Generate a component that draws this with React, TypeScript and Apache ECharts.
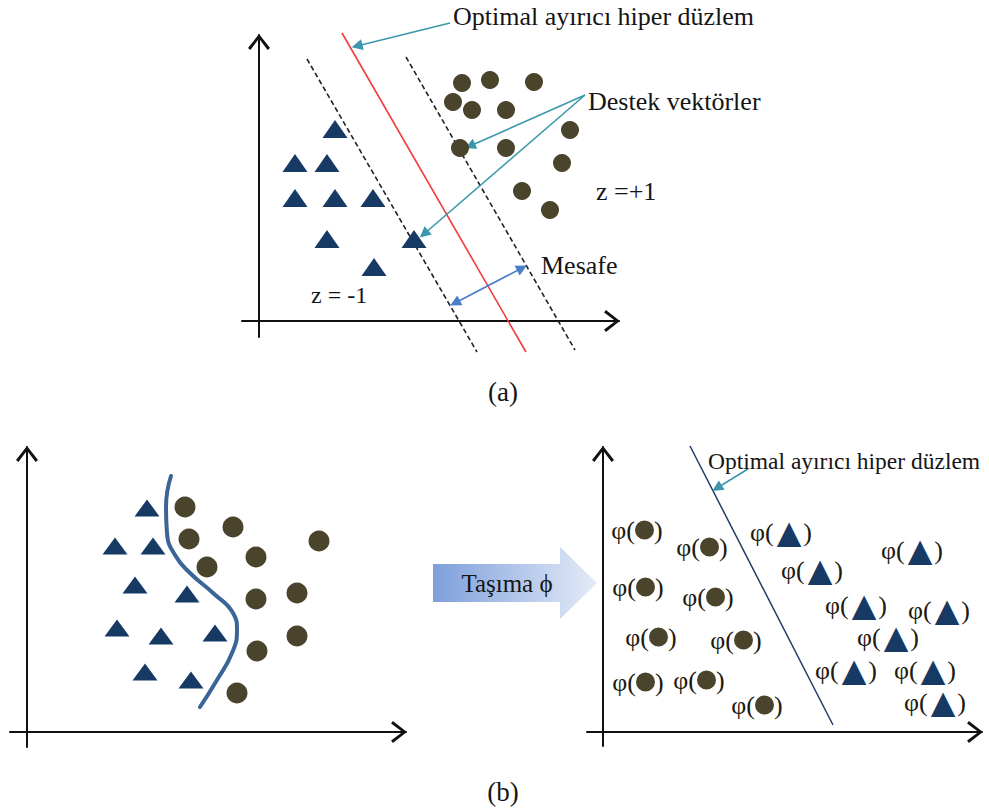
import React, { useEffect, useRef } from 'react';
import * as echarts from 'echarts';

// ---------- Panel (a): linear SVM ----------
const aTriangles = [
  [7.6, 19.2], [3.6, 15.8], [6.8, 15.8], [3.6, 12.3], [7.6, 12.3], [11.4, 12.3],
  [6.8, 8.2], [15.5, 8.2], [11.5, 5.4],
];
const aCircles = [
  [20.3, 23.8], [23.1, 24.1], [27.5, 23.9], [19.4, 21.9], [21.3, 21.1], [24.7, 21.1],
  [31.1, 19.1], [20.1, 17.3], [24.7, 17.3], [30.3, 15.8], [26.3, 13.0], [29.1, 11.1],
];
const aHyperplane = [[8.3, 28.8], [26.7, -3.1]];
const aMarginMinus = [[4.8, 26.2], [21.8, -3.1]];
const aMarginPlus = [[14.7, 26.4], [31.6, -2.9]];
const aArrowOptimal = [[19.1, 29.8], [9.8, 27.5]];
const aArrowSupportCircle = [[32.6, 22.6], [21.1, 17.5]];
const aArrowSupportTriangle = [[32.6, 22.6], [16.5, 8.7]];
const aArrowDistance = [[19.6, 1.8], [26.3, 5.3]];

// ---------- Panel (b) left: non-linear data ----------
const blTriangles = [
  [12.0, 22.4], [8.8, 18.6], [12.6, 18.6], [10.8, 14.7], [16.0, 13.8],
  [9.0, 10.4], [13.4, 9.6], [18.8, 9.9], [11.8, 6.0], [16.4, 5.2],
];
const blCircles = [
  [15.8, 22.5], [20.6, 20.5], [16.2, 19.3], [29.2, 19.1], [22.9, 17.5], [18.0, 16.5],
  [22.9, 13.3], [27.0, 13.9], [27.0, 9.6], [23.0, 8.1], [21.0, 3.9],
];
const blBoundary = [
  [14.4, 25.6], [13.9, 22.5], [14.0, 19.9], [14.8, 17.7], [16.3, 15.9], [18.6, 13.9],
  [20.6, 11.9], [21.0, 10.2], [20.5, 7.9], [19.0, 5.2], [17.3, 2.5],
];

// ---------- Panel (b) right: mapped feature space ----------
const brPhiCircles = [
  [3.4, 20.2], [9.9, 18.5], [3.5, 14.5], [10.5, 13.5], [4.8, 9.5],
  [13.3, 9.2], [3.5, 5.0], [9.6, 5.2], [15.4, 2.7],
];
const brPhiTriangles = [
  [17.8, 20.0], [30.9, 18.2], [20.9, 16.2], [25.3, 12.7], [33.6, 12.2],
  [28.5, 9.5], [24.3, 6.2], [32.2, 6.2], [33.2, 3.0],
];
const brHyperplane = [[8.7, 28.6], [23.0, 0.7]];
const brArrowOptimal = [[14.5, 26.3], [11.4, 24.4]];

// axis ranges [xmin, xmax, ymin, ymax]
const aRange = [-1.7, 36.0, -1.6, 28.6];
const blRange = [-1.7, 37.9, -1.5, 28.5];
const brRange = [-1.6, 37.9, -1.4, 28.5];

const TRI = '#173A64';
const CIR = '#4A442D';
const TEAL = '#3A97AC';
const SERIF = '"Liberation Serif", "Times New Roman", serif';

const chevron = 'path://M0,14 L11,0 L22,14 L19.6,15.8 L11,4.4 L2.4,15.8 Z';

function axis(gridIndex: number, min: number, max: number) {
  return {
    type: 'value',
    gridIndex,
    min,
    max,
    axisLine: {
      show: true,
      onZero: true,
      symbol: ['none', chevron],
      symbolSize: [22, 16],
      symbolOffset: [0, -7],
      lineStyle: { color: '#111', width: 2 },
    },
    axisTick: { show: false },
    axisLabel: { show: false },
    splitLine: { show: false },
  };
}

function seg(idx: number, data: number[][], color: string, width: number, type: any = 'solid') {
  return {
    type: 'line',
    xAxisIndex: idx,
    yAxisIndex: idx,
    data,
    symbol: 'none',
    clip: false,
    silent: true,
    lineStyle: { color, width, type },
    z: 3,
  };
}

function arrows(idx: number, list: number[][][], color: string, both = false) {
  return {
    type: 'lines',
    coordinateSystem: 'cartesian2d',
    xAxisIndex: idx,
    yAxisIndex: idx,
    clip: false,
    silent: true,
    symbol: both ? ['triangle', 'triangle'] : ['none', 'triangle'],
    symbolSize: 11,
    lineStyle: { color, width: 1.6, opacity: 1, curveness: 0 },
    data: list.map((c) => ({ coords: c })),
    z: 4,
  };
}

function txt(t: string, x: number, y: number, size: number, align = 'left') {
  return {
    type: 'text',
    x,
    y,
    z: 100,
    style: { text: t, fill: '#151515', fontSize: size, fontFamily: SERIF, align, verticalAlign: 'middle' },
  };
}

const phiRichBase = { fontFamily: SERIF, fontSize: 26, color: '#1E1A10', lineHeight: 32, verticalAlign: 'middle', opacity: 1 };

const option: any = {
  animation: false,
  backgroundColor: '#ffffff',
  grid: [
    { left: 242, top: 35, width: 377, height: 302 },
    { left: 10, top: 447, width: 396, height: 300 },
    { left: 587, top: 447, width: 395, height: 299 },
  ],
  xAxis: [axis(0, aRange[0], aRange[1]), axis(1, blRange[0], blRange[1]), axis(2, brRange[0], brRange[1])],
  yAxis: [axis(0, aRange[2], aRange[3]), axis(1, blRange[2], blRange[3]), axis(2, brRange[2], brRange[3])],
  series: [
    // panel (a)
    seg(0, aMarginMinus, '#222', 1.6, [5, 3]),
    seg(0, aMarginPlus, '#222', 1.6, [5, 3]),
    seg(0, aHyperplane, '#F23A3A', 1.6),
    {
      type: 'scatter', xAxisIndex: 0, yAxisIndex: 0, data: aTriangles, symbol: 'triangle',
      symbolSize: [25, 18], itemStyle: { color: TRI, opacity: 1 }, z: 5, silent: true,
    },
    {
      type: 'scatter', xAxisIndex: 0, yAxisIndex: 0, data: aCircles, symbol: 'circle',
      symbolSize: 18, itemStyle: { color: CIR, opacity: 1 }, z: 5, silent: true,
    },
    arrows(0, [aArrowOptimal, aArrowSupportCircle, aArrowSupportTriangle], TEAL),
    arrows(0, [aArrowDistance], '#4A7FC8', true),
    // panel (b) left
    {
      type: 'line', xAxisIndex: 1, yAxisIndex: 1, data: blBoundary, smooth: 0.5, symbol: 'none',
      silent: true, clip: false, lineStyle: { color: '#3B6596', width: 4, cap: 'round' }, z: 3,
    },
    {
      type: 'scatter', xAxisIndex: 1, yAxisIndex: 1, data: blTriangles, symbol: 'triangle',
      symbolSize: [25, 17], itemStyle: { color: TRI, opacity: 1 }, z: 5, silent: true,
    },
    {
      type: 'scatter', xAxisIndex: 1, yAxisIndex: 1, data: blCircles, symbol: 'circle',
      symbolSize: 21, itemStyle: { color: CIR, opacity: 1 }, z: 5, silent: true,
    },
    // panel (b) right
    seg(2, brHyperplane, '#1F3C66', 1.5),
    arrows(2, [brArrowOptimal], TEAL),
    {
      type: 'scatter', xAxisIndex: 2, yAxisIndex: 2, data: brPhiCircles, symbolSize: 1,
      itemStyle: { color: '#ffffff', opacity: 1 }, silent: true, z: 5,
      label: {
        show: true, position: 'inside', opacity: 1, formatter: '{p|φ(}{c| }{p|)}',
        rich: {
          p: phiRichBase,
          c: { width: 19, height: 19, backgroundColor: CIR, borderRadius: 9.5, verticalAlign: 'middle', lineHeight: 32 },
        },
      },
    },
    {
      type: 'scatter', xAxisIndex: 2, yAxisIndex: 2, data: brPhiTriangles, symbolSize: 1,
      itemStyle: { color: '#ffffff', opacity: 1 }, silent: true, z: 5,
      label: {
        show: true, position: 'inside', opacity: 1, formatter: '{p|φ(}{t|▲}{p|)}',
        rich: {
          p: phiRichBase,
          t: { fontFamily: '"DejaVu Sans"', fontSize: 32, color: TRI, lineHeight: 32, verticalAlign: 'middle', padding: [0, 2, 0, 3] },
        },
      },
    },
  ],
  graphic: [
    txt('Optimal ayırıcı hiper düzlem', 453, 16, 26),
    txt('Destek vektörler', 588, 101, 26),
    txt('z =+1', 596, 191, 26),
    txt('z = -1', 311, 295, 24),
    txt('Mesafe', 541, 265, 26),
    txt('(a)', 503, 392, 27, 'center'),
    txt('(b)', 503, 792, 27, 'center'),
    {
      type: 'polygon',
      z: 90,
      shape: { points: [[433, 564], [560, 564], [560, 547], [597, 583], [560, 619], [560, 602], [433, 602]] },
      style: {
        fill: {
          type: 'linear', x: 0, y: 0, x2: 1, y2: 0,
          colorStops: [{ offset: 0, color: '#7E9FDB' }, { offset: 1, color: '#E4EBF7' }],
        },
      },
    },
    txt('Taşıma ϕ', 507, 583, 25, 'center'),
    txt('Optimal ayırıcı hiper düzlem', 708, 461, 23.5),
  ],
};

export default function App() {
  const ref = useRef<HTMLDivElement>(null);
  useEffect(() => {
    document.body.style.margin = '0';
    const chart = echarts.init(ref.current as HTMLDivElement, null, { renderer: 'svg' });
    chart.setOption(option);
    return () => chart.dispose();
  }, []);
  return (
    <div
      ref={ref}
      style={{ position: 'absolute', left: 0, top: 0, width: 989, height: 811, background: '#fff' }}
    />
  );
}
